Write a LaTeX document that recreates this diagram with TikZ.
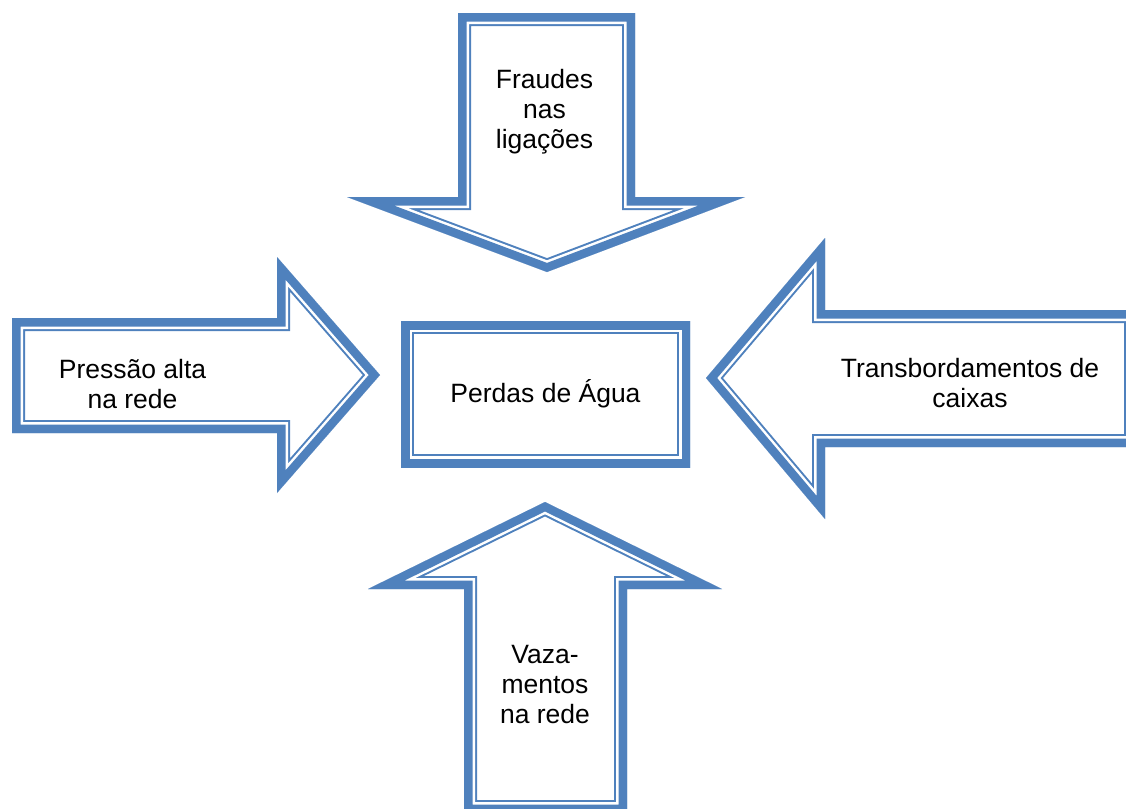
\documentclass[tikz,border=0pt]{standalone}
\usepackage{fontspec}
\setmainfont{Liberation Sans}
\usetikzlibrary{positioning}
\definecolor{azul}{HTML}{4F81BD}

\tikzset{
 rotulo/.style={align=center,font=\fontsize{13.25}{15}\selectfont,anchor=base,inner sep=0pt},
 faixa/.style={draw=azul,line width=13pt},
 fresta/.style={draw=white,line width=11pt},
 borda/.style={draw=azul,line width=8.5pt}
}
% thick-thin outline, drawn inside the shape only
\newcommand{\contorno}[1]{%
 \begin{scope}
 \clip #1;
 \draw[faixa] #1;
 \draw[fresta] #1;
 \draw[borda] #1;
 \end{scope}}

\begin{document}
\begin{tikzpicture}[x=0.5pt,y=-0.5pt]
 \useasboundingbox (0,0) rectangle (1126,809);
 \contorno{(458,13)--(635,13)--(635,197)--(745,197)--(547,272)--(347,197)--(458,197)--cycle}
 \contorno{(12,318)--(277,318)--(277,257)--(380,375)--(277,493)--(277,433)--(12,433)--cycle}
 \contorno{(1137,310)--(825,310)--(825,238)--(706,378)--(825,519)--(825,447)--(1137,447)--cycle}
 \contorno{(464,813)--(464,589)--(368,589)--(545,502)--(722,589)--(627,589)--(627,813)--cycle}
 \contorno{(401,321)--(690,321)--(690,467)--(401,467)--cycle}
 % base anchor sits on the last line
 \node[rotulo] (perdas) at (545.5,402) {Perdas de Água};
 \node[rotulo] (fraudes) at (544.5,148) {Fraudes\\nas\\ligações};
 \node[rotulo] (pressao) at (132.5,408) {Pressão alta\\na rede};
 \node[rotulo] (transb) at (970,407) {Transbordamentos de\\caixas};
 \node[rotulo] (vazam) at (545,723) {Vaza-\\mentos\\na rede};
\end{tikzpicture}
\end{document}
